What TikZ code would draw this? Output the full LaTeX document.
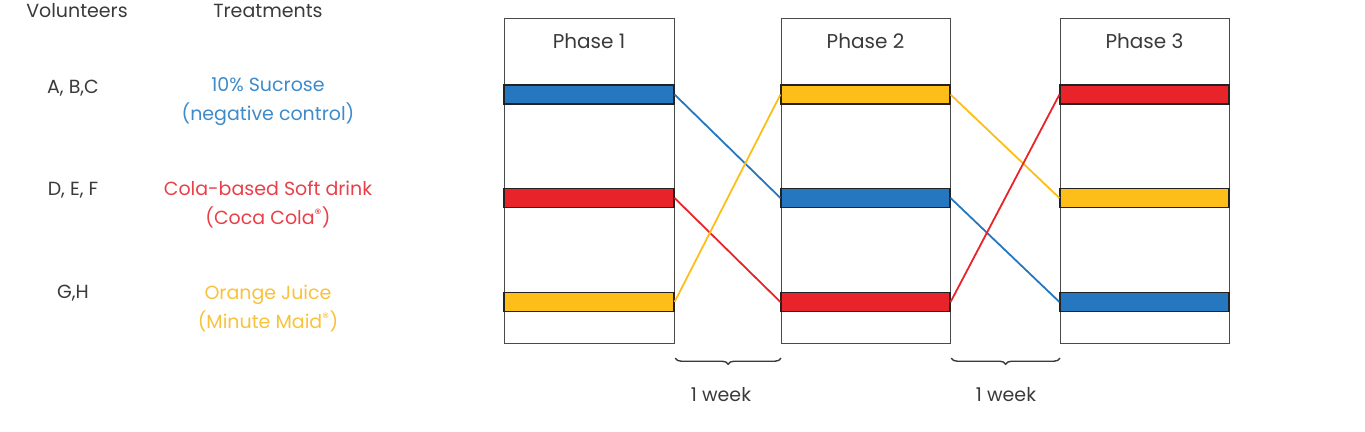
\documentclass[tikz,border=0pt]{standalone}
\usepackage{fontspec}
\setmainfont{Poppins}
\usetikzlibrary{decorations.pathreplacing}
\definecolor{cblue}{HTML}{2577C0}
\definecolor{cred}{HTML}{E8242A}
\definecolor{cyel}{HTML}{FDBE1A}
\definecolor{tblue}{HTML}{3D8BCB}
\definecolor{tred}{HTML}{E8404A}
\definecolor{tyel}{HTML}{F8C23A}
\definecolor{tgray}{HTML}{3A3A3A}
\definecolor{boxgray}{HTML}{4A4A4A}
\definecolor{bandedge}{HTML}{222222}
\begin{document}
\begin{tikzpicture}[x=1pt,y=-1pt,
  phasebox/.style={draw=boxgray, line width=1.2pt, minimum width=170pt, minimum height=325pt, inner sep=0pt, anchor=north west},
  band/.style={draw=bandedge, line width=1.1pt, minimum width=170pt, minimum height=19pt, inner sep=0pt},
  lbl/.style={font=\fontsize{19}{23}\selectfont, text=tgray, inner sep=0pt},
  ttl/.style={font=\fontsize{20}{24}\selectfont, text=tgray, inner sep=0pt},
  trt/.style={font=\fontsize{19}{29}\selectfont, align=center, inner sep=0pt},
  link/.style={line width=1.8pt},
  wbrace/.style={draw=tgray, line width=1.4pt, decorate, decoration={brace, mirror, amplitude=6pt}}
]
\useasboundingbox (0,0) rectangle (1365,431);
% left texts
\node[lbl] (hv) at (77,11) {Volunteers};
\node[lbl] (ht) at (268,11) {Treatments};
\node[lbl] (v1) at (73,88) {A, B,C};
\node[lbl] (v2) at (73,190) {D, E, F};
\node[lbl] (v3) at (73,293) {G,H};
\node[trt, text=tblue] (t1) at (268,102) {10\% Sucrose\\(negative control)};
\node[trt, text=tred] (t2) at (268,205) {Cola-based Soft drink\\(Coca Cola\textsuperscript{\textregistered})};
\node[trt, text=tyel] (t3) at (268,309) {Orange Juice\\(Minute Maid\textsuperscript{\textregistered})};
% phase boxes
\node[phasebox] (p1) at (504,18) {};
\node[phasebox, minimum width=169pt] (p2) at (781,18) {};
\node[phasebox, minimum width=169pt] (p3) at (1060,18) {};
\node[ttl] (p1t) at (589,41) {Phase 1};
\node[ttl] (p2t) at (865.5,41) {Phase 2};
\node[ttl] (p3t) at (1144.5,41) {Phase 3};
% bands
\node[band, fill=cblue] (p1b) at (589,94.5) {};
\node[band, fill=cred] (p1r) at (589,198) {};
\node[band, fill=cyel] (p1y) at (589,302) {};
\node[band, fill=cyel, minimum width=169pt] (p2y) at (865.5,94.5) {};
\node[band, fill=cblue, minimum width=169pt] (p2b) at (865.5,198) {};
\node[band, fill=cred, minimum width=169pt] (p2r) at (865.5,302) {};
\node[band, fill=cred, minimum width=169pt] (p3r) at (1144.5,94.5) {};
\node[band, fill=cyel, minimum width=169pt] (p3y) at (1144.5,198) {};
\node[band, fill=cblue, minimum width=169pt] (p3b) at (1144.5,302) {};
% links
\draw[link, cblue] (p1b.east) -- (p2b.west);
\draw[link, cred] (p1r.east) -- (p2r.west);
\draw[link, cyel] (p1y.east) -- (p2y.west);
\draw[link, cyel] (p2y.east) -- (p3y.west);
\draw[link, cblue] (p2b.east) -- (p3b.west);
\draw[link, cred] (p2r.east) -- (p3r.west);
% braces
\coordinate (b1a) at ([yshift=-14pt]p1.south east);
\coordinate (b1b) at ([yshift=-14pt]p2.south west);
\coordinate (b2a) at ([yshift=-14pt]p2.south east);
\coordinate (b2b) at ([yshift=-14pt]p3.south west);
\draw[wbrace] (b1a) -- (b1b);
\draw[wbrace] (b2a) -- (b2b);
\node[lbl] (w1) at (721,395) {1 week};
\node[lbl] (w2) at (1006,395) {1 week};
\end{tikzpicture}
\end{document}
